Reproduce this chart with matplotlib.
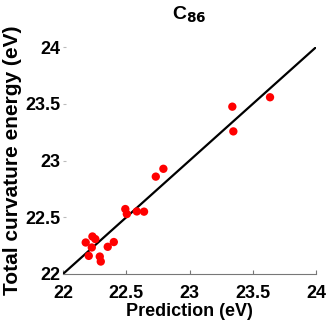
import matplotlib
matplotlib.use('Agg')
from matplotlib import pyplot as plt
import numpy as np

plt.rcParams['font.family'] = ['Liberation Sans', 'DejaVu Sans']
plt.rcParams['font.weight'] = 'bold'

# predicted vs. total curvature energy (eV)
prediction = [22.793, 22.733, 22.492, 22.504, 22.583, 22.640,
              22.179, 22.232, 22.255, 22.227, 22.203, 22.290,
              22.298, 22.353, 22.401, 23.338, 23.636, 23.346]
energy = [22.927, 22.858, 22.572, 22.528, 22.551, 22.549,
          22.277, 22.330, 22.307, 22.233, 22.159, 22.153,
          22.109, 22.239, 22.281, 23.475, 23.558, 23.257]
ticks = [22, 22.5, 23, 23.5, 24]
tick_labels = ['22', '22.5', '23', '23.5', '24']

fig = plt.figure(figsize=(3.32, 3.32), dpi=100)
ax = fig.add_axes([0.19, 0.175, 0.762, 0.683])

ax.plot([22, 24], [22, 24], color='k', lw=1.6, zorder=2)
ax.scatter(prediction, energy, s=36, color='red', edgecolors='none', zorder=3)

ax.set_xlim(22, 24)
ax.set_ylim(22, 24)
ax.set_xticks(ticks)
ax.set_xticklabels(tick_labels)
ax.set_yticks(ticks)
ax.set_yticklabels(tick_labels)

for s in ['top', 'right', 'left']:
    ax.spines[s].set_visible(False)
ax.spines['bottom'].set_color('#777777')
ax.spines['bottom'].set_linewidth(0.8)
ax.tick_params(axis='x', direction='in', length=3, color='#777777',
               labelsize=13, pad=8)
ax.tick_params(axis='y', direction='in', length=2, color='#bbbbbb',
               labelsize=13, pad=2)

ax.set_xlabel('Prediction (eV)', fontsize=13, fontweight='bold', labelpad=1)
ax.set_ylabel('Total curvature energy (eV)', fontsize=15, fontweight='bold',
              labelpad=2)
ax.set_title('C$_{\\mathbf{86}}$', fontsize=14, fontweight='bold', pad=20)

fig.savefig('out.png', dpi=100)
